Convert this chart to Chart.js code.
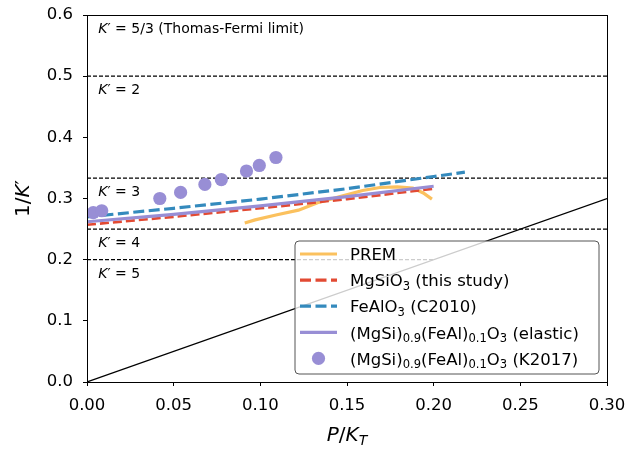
<!DOCTYPE html>
<html>
<head>
<meta charset="utf-8">
<script src="https://cdn.jsdelivr.net/npm/chart.js@4.4.1/dist/chart.umd.min.js"></script>
<style>
  html, body { margin: 0; padding: 0; background: #fff; }
  #wrap { width: 627px; height: 454px; }
</style>
</head>
<body>
<div id="wrap"><canvas id="kprime" width="627" height="454"></canvas></div>
<script>
// PREM profile
const premX = [0.091, 0.097, 0.109, 0.122, 0.133, 0.146, 0.159, 0.169, 0.179, 0.188, 0.194, 0.199];
const premY = [0.260, 0.265, 0.273, 0.281, 0.293, 0.303, 0.313, 0.318, 0.319, 0.317, 0.309, 0.299];
// MgSiO3 (this study)
const mgsio3X = [0, 0.05, 0.10, 0.15, 0.20];
const mgsio3Y = [0.257, 0.270, 0.284, 0.299, 0.316];
// FeAlO3 (C2010)
const fealo3X = [0, 0.05, 0.10, 0.15, 0.20, 0.218];
const fealo3Y = [0.270, 0.284, 0.299, 0.316, 0.336, 0.343];
// (MgSi)0.9(FeAl)0.1O3 elastic
const elasticX = [0, 0.05, 0.10, 0.15, 0.20];
const elasticY = [0.262, 0.274, 0.288, 0.303, 0.320];
// (MgSi)0.9(FeAl)0.1O3 K2017 points
const k2017X = [0.0036, 0.0085, 0.042, 0.054, 0.068, 0.0775, 0.092, 0.0994, 0.109];
const k2017Y = [0.277, 0.280, 0.300, 0.310, 0.323, 0.331, 0.345, 0.354, 0.367];

// reference K' values, drawn as 1/K' lines
const kpValues = [5 / 3, 2, 3, 4, 5];
const kpLabels = ['*K*′ = 5/3 (Thomas-Fermi limit)', '*K*′ = 2', '*K*′ = 3', '*K*′ = 4', '*K*′ = 5'];
const kpLineEnd = [0.3, 0.3, 0.3, 0.3, 0.2];
const diagX = [0, 0.3];

const xTicks = [0, 0.05, 0.10, 0.15, 0.20, 0.25, 0.30];
const yTicks = [0, 0.1, 0.2, 0.3, 0.4, 0.5, 0.6];

const legendItems = [
  { label: 'PREM', color: '#FBC15E', dash: [] },
  { label: 'MgSiO_{3} (this study)', color: '#E24A33', dash: [11, 4.5] },
  { label: 'FeAlO_{3} (C2010)', color: '#348ABD', dash: [11, 4.5] },
  { label: '(MgSi)_{0.9}(FeAl)_{0.1}O_{3} (elastic)', color: '#988ED5', dash: [] },
  { label: '(MgSi)_{0.9}(FeAl)_{0.1}O_{3} (K2017)', color: '#988ED5', marker: true }
];

const FONT = '"DejaVu Sans", sans-serif';
const zip = (xs, ys) => xs.map((x, i) => ({ x, y: ys[i] }));

// "*...*" toggles italic, "_{...}" is a subscript
function richParts(str) {
  const parts = [];
  let italic = false, sub = false, buf = '';
  const push = () => { if (buf) parts.push({ text: buf, italic, sub }); buf = ''; };
  for (let i = 0; i < str.length; i++) {
    const c = str[i];
    if (c === '*') { push(); italic = !italic; }
    else if (c === '_' && str[i + 1] === '{') { push(); sub = true; i++; }
    else if (c === '}' && sub) { push(); sub = false; }
    else buf += c;
  }
  push();
  return parts;
}

function drawRich(ctx, str, x, y, size, align) {
  const parts = richParts(str);
  const fontFor = p => (p.italic ? 'italic ' : '') + (p.sub ? size * 0.7 : size) + 'px ' + FONT;
  let width = 0;
  parts.forEach(p => { ctx.font = fontFor(p); p.w = ctx.measureText(p.text).width; width += p.w; });
  let cx = align === 'center' ? x - width / 2 : x;
  ctx.textAlign = 'left';
  ctx.textBaseline = 'alphabetic';
  parts.forEach(p => {
    ctx.font = fontFor(p);
    ctx.fillText(p.text, cx, p.sub ? y + size * 0.22 : y);
    cx += p.w;
  });
}

const datasets = [];
// listed top-most first: Chart.js paints the first dataset last
datasets.push({
  data: zip(k2017X, k2017Y), showLine: false, pointRadius: 6.6,
  pointBackgroundColor: '#988ED5', pointBorderWidth: 0, clip: 0
});
datasets.push({
  data: zip(elasticX, elasticY), showLine: true, borderColor: '#988ED5', borderWidth: 3.2, pointRadius: 0
});
datasets.push({
  data: zip(fealo3X, fealo3Y), showLine: true, borderColor: '#348ABD', borderWidth: 3.2,
  borderDash: [11, 4.5], pointRadius: 0
});
datasets.push({
  data: zip(mgsio3X, mgsio3Y), showLine: true, borderColor: '#E24A33', borderWidth: 2.6,
  borderDash: [9, 4], pointRadius: 0
});
datasets.push({
  data: zip(premX, premY), showLine: true, borderColor: '#FBC15E', borderWidth: 3.2, pointRadius: 0
});
kpValues.slice(1).forEach((kp, i) => {
  datasets.push({
    data: [{ x: 0, y: 1 / kp }, { x: kpLineEnd[i + 1], y: 1 / kp }], showLine: true,
    borderColor: '#000', borderWidth: 1.2, borderDash: [4, 2], pointRadius: 0
  });
});
datasets.push({
  data: zip(diagX, diagX), showLine: true, borderColor: '#000', borderWidth: 1.2, pointRadius: 0
});

const decor = {
  id: 'decor',
  afterDatasetsDraw(chart) {
    const { ctx, chartArea: ca, scales: { x, y } } = chart;
    ctx.save();
    // frame on all four sides
    ctx.strokeStyle = '#000';
    ctx.lineWidth = 1;
    ctx.strokeRect(ca.left + 0.5, ca.top + 0.5, ca.right - ca.left, ca.bottom - ca.top);

    // K' annotations
    ctx.fillStyle = '#000';
    kpValues.forEach((kp, i) => {
      drawRich(ctx, kpLabels[i], x.getPixelForValue(0.0065), y.getPixelForValue(1 / kp) + 18, 14, 'left');
    });

    // axis titles
    drawRich(ctx, '*P*/*K*_{*T*}', (ca.left + ca.right) / 2, 441, 20, 'center');
    ctx.translate(28.5, (ca.top + ca.bottom) / 2);
    ctx.rotate(-Math.PI / 2);
    drawRich(ctx, '1/*K*′', 0, 0, 20, 'center');
    ctx.restore();

    // legend, lower right
    ctx.save();
    const w = 304, h = 133;
    const right = ca.right - 8.5, bottom = ca.bottom - 8.5;
    const left = right - w, top = bottom - h;
    ctx.beginPath();
    ctx.roundRect(left + 0.5, top + 0.5, w, h, 4);
    ctx.fillStyle = 'rgba(255,255,255,0.8)';
    ctx.fill();
    ctx.strokeStyle = '#555';
    ctx.lineWidth = 1;
    ctx.stroke();
    legendItems.forEach((item, i) => {
      const cy = top + 13.5 + i * 26.1;
      const hx0 = left + 5.5, hx1 = left + 42.5;
      if (item.marker) {
        ctx.beginPath();
        ctx.arc((hx0 + hx1) / 2, cy, 6.6, 0, Math.PI * 2);
        ctx.fillStyle = item.color;
        ctx.fill();
      } else {
        ctx.beginPath();
        ctx.setLineDash(item.dash);
        ctx.moveTo(hx0, cy);
        ctx.lineTo(hx1, cy);
        ctx.strokeStyle = item.color;
        ctx.lineWidth = 3.2;
        ctx.stroke();
        ctx.setLineDash([]);
      }
      ctx.fillStyle = '#000';
      drawRich(ctx, item.label, left + 55.5, cy + 6.2, 16.5, 'left');
    });
    ctx.restore();
  }
};

new Chart(document.getElementById('kprime').getContext('2d'), {
  type: 'scatter',
  data: { datasets },
  options: {
    responsive: false,
    animation: false,
    devicePixelRatio: 1,
    layout: { padding: { left: 0, right: 20, top: 15, bottom: 0 } },
    plugins: { legend: { display: false }, tooltip: { enabled: false } },
    scales: {
      x: {
        type: 'linear', min: 0, max: 0.3,
        afterBuildTicks(scale) { scale.ticks = xTicks.map(v => ({ value: v })); },
        afterFit(scale) {
          scale.height = 72;
          scale.paddingLeft = 0;
          scale.paddingRight = 0;
        },
        ticks: {
          callback: v => v.toFixed(2), color: '#000', padding: 10,
          font: { family: FONT, size: 16.5 }, maxRotation: 0
        },
        grid: { drawOnChartArea: false, drawTicks: true, tickLength: 4, color: '#000' },
        border: { color: '#000', width: 1 }
      },
      y: {
        type: 'linear', min: 0, max: 0.6,
        afterBuildTicks(scale) { scale.ticks = yTicks.map(v => ({ value: v })); },
        afterFit(scale) {
          scale.width = 87;
          scale.paddingTop = 0;
          scale.paddingBottom = 0;
        },
        ticks: {
          callback: v => v.toFixed(1), color: '#000', padding: 10,
          font: { family: FONT, size: 16.5 }
        },
        grid: { drawOnChartArea: false, drawTicks: true, tickLength: 4, color: '#000' },
        border: { color: '#000', width: 1 }
      }
    }
  },
  plugins: [decor]
});
</script>
</body>
</html>
